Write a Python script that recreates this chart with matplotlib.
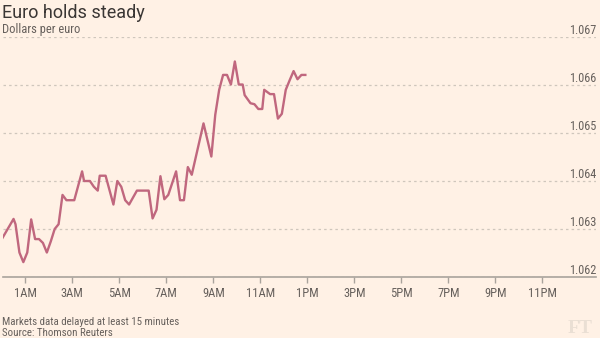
import matplotlib
matplotlib.use("Agg")
import matplotlib.pyplot as plt
import matplotlib.transforms as mtransforms
from matplotlib import font_manager

# Euro/dollar intraday quotes (local time, dollars per euro)
times = ["00:00", "00:30", "00:35", "00:45", "00:55", "01:05", "01:15", "01:25",
         "01:35", "01:45", "01:55", "02:05", "02:15", "02:25", "02:35", "02:45",
         "03:05", "03:25", "03:30", "03:45", "03:55", "04:05", "04:10", "04:25",
         "04:45", "04:55", "05:05", "05:15", "05:25", "05:45", "06:15", "06:25",
         "06:35", "06:45", "06:55", "07:05", "07:25", "07:35", "07:45", "07:55",
         "08:05", "08:35", "08:55", "09:05", "09:15", "09:25", "09:35", "09:45",
         "09:55", "10:05", "10:15", "10:20", "10:35", "10:45", "10:55", "11:05",
         "11:10", "11:25", "11:35", "11:45", "11:55", "12:05", "12:15", "12:25",
         "12:35", "12:45", "12:55"]
rates = [1.06279, 1.06321, 1.06310, 1.06251, 1.06231, 1.06251, 1.06320, 1.06279,
         1.06279, 1.06271, 1.06251, 1.06274, 1.06300, 1.06310, 1.06371, 1.06360,
         1.06360, 1.06420, 1.06400, 1.06400, 1.06388, 1.06380, 1.06411, 1.06411,
         1.06351, 1.06400, 1.06388, 1.06360, 1.06351, 1.06380, 1.06380, 1.06322,
         1.06340, 1.06410, 1.06362, 1.06371, 1.06420, 1.06360, 1.06360, 1.06429,
         1.06413, 1.06520, 1.06451, 1.06538, 1.06590, 1.06621, 1.06621, 1.06601,
         1.06649, 1.06601, 1.06601, 1.06579, 1.06562, 1.06560, 1.06550, 1.06550,
         1.06590, 1.06581, 1.06581, 1.06530, 1.06540, 1.06590, 1.06610, 1.06629,
         1.06612, 1.06621, 1.06621]

y_ticks = [1.062, 1.063, 1.064, 1.065, 1.066, 1.067]
y_labels = ["1.062", "1.063", "1.064", "1.065", "1.066", "1.067"]
x_ticks = [1, 3, 5, 7, 9, 11, 13, 15, 17, 19, 21, 23]
x_labels = ["1AM", "3AM", "5AM", "7AM", "9AM", "11AM",
            "1PM", "3PM", "5PM", "7PM", "9PM", "11PM"]

hours = [int(t[:2]) + int(t[3:]) / 60 for t in times]

BG = "#FFF1E5"
LINE = "#C0677E"
GRID = "#CFC6BC"
AXIS = "#A9A39C"
TEXT = "#66605C"
TITLE = "#3A3634"

installed = {f.name for f in font_manager.fontManager.ttflist}
narrow = [f for f in ["Liberation Sans Narrow", "Roboto Condensed", "Roboto"] if f in installed]
narrow = narrow + ["DejaVu Sans"]

W, H = 600, 338
fig = plt.figure(figsize=(W / 100, H / 100), dpi=100, facecolor=BG)

# plot area in pixels
left_px, right_px, top_px, bottom_px = 3, 596, 37, 277
ax = fig.add_axes([left_px / W, 1 - bottom_px / H,
                   (right_px - left_px) / W, (bottom_px - top_px) / H])
ax.set_facecolor(BG)

px_per_hour = 23.5
midnight_px = 1.8
ax.set_xlim((left_px - midnight_px) / px_per_hour, (right_px - midnight_px) / px_per_hour)
ax.set_ylim(y_ticks[0], y_ticks[-1])

ax.plot(hours, rates, color=LINE, lw=1.7, solid_joinstyle="round", zorder=3)

for s in ["top", "left", "right"]:
    ax.spines[s].set_visible(False)
ax.spines["bottom"].set_color(AXIS)
ax.spines["bottom"].set_linewidth(1.2)

ax.set_xticks(x_ticks)
ax.set_xticklabels(x_labels, family=narrow, fontsize=9, color=TEXT)
ax.tick_params(axis="x", direction="out", length=4.5, width=1, color=AXIS, pad=3)

ax.yaxis.tick_right()
ax.set_yticks(y_ticks)
ax.set_yticklabels(y_labels, family=narrow, fontsize=8.8, color=TEXT)
ax.tick_params(axis="y", length=0, pad=0)
shift = mtransforms.ScaledTranslation(0, 2.5 / 100, fig.dpi_scale_trans)
for lab in ax.get_yticklabels():
    lab.set_horizontalalignment("right")
    lab.set_verticalalignment("baseline")
    lab.set_transform(lab.get_transform() + shift)

ax.grid(axis="y", color=GRID, lw=0.9, linestyle=(0, (2, 2.5)))
ax.grid(axis="x", visible=False)
ax.set_axisbelow(True)

fig.text(2 / W, 1 - 18 / H, "Euro holds steady", family=["Roboto", "DejaVu Sans"],
         fontsize=13, color=TITLE, va="baseline", ha="left")
fig.text(2 / W, 1 - 32.5 / H, "Dollars per euro", family=narrow,
         fontsize=9, color=TEXT, va="baseline", ha="left")
fig.text(2 / W, 1 - 325 / H, "Markets data delayed at least 15 minutes", family=narrow,
         fontsize=7.8, color=TEXT, va="baseline", ha="left")
fig.text(2 / W, 1 - 336 / H, "Source: Thomson Reuters", family=narrow,
         fontsize=7.8, color=TEXT, va="baseline", ha="left")
fig.text(593 / W, 1 - 333 / H, "FT", family=["Liberation Serif", "DejaVu Serif"],
         fontsize=14, color="#EADFD4", va="baseline", ha="right", weight="bold")

fig.savefig("out.png", dpi=100, facecolor=BG)
